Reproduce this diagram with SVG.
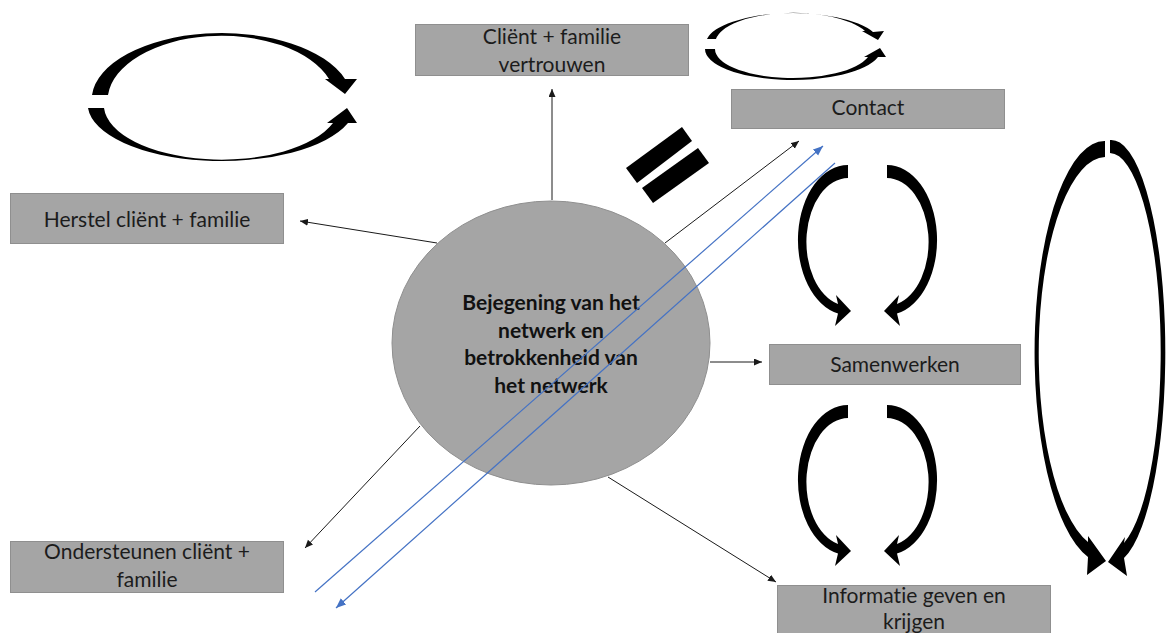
<svg xmlns="http://www.w3.org/2000/svg" xmlns:xlink="http://www.w3.org/1999/xlink" width="1166" height="633" viewBox="0 0 1166 633">
  <style>
    .box { fill: #a5a5a5; stroke: #8f8f8f; stroke-width: 1; }
    .lbl { font-family: Lato, "Liberation Sans", sans-serif; font-size: 21px; fill: #1c1c1c; text-anchor: middle; font-variant-ligatures: none; }
    .hub { font-family: Lato, "Liberation Sans", sans-serif; font-size: 21px; font-weight: bold; fill: #111; text-anchor: middle; font-variant-ligatures: none; }
    .line { fill: none; stroke: #1a1a1a; stroke-width: 1; }
    .blue { fill: none; stroke: #4472c4; stroke-width: 1.2; }
    .cycle { fill: #000; stroke: none; }
  </style>
  <defs>
    <marker id="tipBlack" markerUnits="userSpaceOnUse" markerWidth="9" markerHeight="8" refX="8" refY="3.5" orient="auto">
      <path d="M0,0 L8,3.5 L0,7 z" fill="#1a1a1a"/>
    </marker>
    <marker id="tipBlue" markerUnits="userSpaceOnUse" markerWidth="11" markerHeight="9" refX="10" refY="4" orient="auto">
      <path d="M0,0 L10,4 L0,8 z" fill="#4472c4"/>
    </marker>
    <!-- half of a vertical cycle: tail cut at the top, head at the bottom -->
    <path id="halfLoop" d="M848,165 A50 75 0 0 0 838,313.5 L835,326 L851,311 L836,295 L838,304 A42 64 0 0 1 848,178 Z"/>
  </defs>

  <!-- thick circular arrows -->
  <g id="cycles" class="cycle">
    <path d="M92,95 A130 67 0 0 1 345,79 L357,79 L345,94 L325,79 L329,79 A114 65 0 0 0 108,95 Z"/>
    <path d="M88,108 A134 57 0 0 0 348,123 L357,123 L347,108 L327,123 L333,123 A118 55 0 0 1 104,108 Z"/>
    <path d="M707,39 A87 31 0 0 1 873,32 L884,31 L878,40 L862,31 L865,31 A78 30 0 0 0 716,39 Z"/>
    <path d="M705,49 A88 31 0 0 0 878,57 L886,57 L880,48 L864,57 L868,57 A78 29 0 0 1 715,49 Z"/>
    <use xlink:href="#halfLoop"/>
    <use xlink:href="#halfLoop" transform="translate(1735,0) scale(-1,1)"/>
    <use xlink:href="#halfLoop" transform="translate(0,240)"/>
    <use xlink:href="#halfLoop" transform="translate(1735,240) scale(-1,1)"/>
    <path d="M1105,141 A70 211 0 0 0 1088,557 L1087,575 L1106,561 L1088,536 L1088,542 A67 196 0 0 1 1105,157 Z"/>
    <path d="M1110,140 A54 212 0 0 1 1124,558 L1127,576 L1108,562 L1125,537 L1124,543 A51 199 0 0 0 1110,153 Z"/>
  </g>

  <!-- equals sign -->
  <g id="equals" fill="#000">
    <polygon points="626,168 682,127 692,141 637,183"/>
    <polygon points="642,188 698,148 709,163 653,203"/>
  </g>

  <g id="hub">
    <ellipse cx="551" cy="343" rx="159" ry="142" fill="#a5a5a5" stroke="#8f8f8f" stroke-width="1"/>
    <text class="hub" x="551" y="310">Bejegening van het</text>
    <text class="hub" x="551" y="338">netwerk en</text>
    <text class="hub" x="551" y="365">betrokkenheid van</text>
    <text class="hub" x="551" y="393">het netwerk</text>
  </g>

  <g id="vertrouwen">
    <rect class="box" x="415.5" y="24.5" width="273" height="51"/>
    <text class="lbl" x="552" y="44">Cliënt + familie</text>
    <text class="lbl" x="552" y="72">vertrouwen</text>
  </g>

  <g id="contact">
    <rect class="box" x="731.5" y="89.5" width="273" height="39"/>
    <text class="lbl" x="868" y="115">Contact</text>
  </g>

  <g id="herstel">
    <rect class="box" x="10.5" y="193.5" width="273" height="50"/>
    <text class="lbl" x="147" y="227">Herstel cliënt + familie</text>
  </g>

  <g id="samenwerken">
    <rect class="box" x="769.5" y="344.5" width="251" height="40"/>
    <text class="lbl" x="895" y="372">Samenwerken</text>
  </g>

  <g id="ondersteunen">
    <rect class="box" x="10.5" y="541.5" width="273" height="51"/>
    <text class="lbl" x="147" y="559">Ondersteunen cliënt +</text>
    <text class="lbl" x="147" y="587">familie</text>
  </g>

  <g id="informatie">
    <rect class="box" x="777.5" y="585.5" width="273" height="52"/>
    <text class="lbl" x="914" y="603">Informatie geven en</text>
    <text class="lbl" x="914" y="629">krijgen</text>
  </g>

  <g id="connectors">
    <path class="line" d="M552,200 L552,89" marker-end="url(#tipBlack)"/>
    <path class="line" d="M437,243 L300,221" marker-end="url(#tipBlack)"/>
    <path class="line" d="M665,243 L799,141" marker-end="url(#tipBlack)"/>
    <path class="line" d="M710,362 L762,362" marker-end="url(#tipBlack)"/>
    <path class="line" d="M420,426 L305,548" marker-end="url(#tipBlack)"/>
    <path class="line" d="M608,477 L776,582" marker-end="url(#tipBlack)"/>
    <path class="blue" d="M315,592 L823,146" marker-end="url(#tipBlue)"/>
    <path class="blue" d="M835,163 L336,608" marker-end="url(#tipBlue)"/>
  </g>
</svg>
